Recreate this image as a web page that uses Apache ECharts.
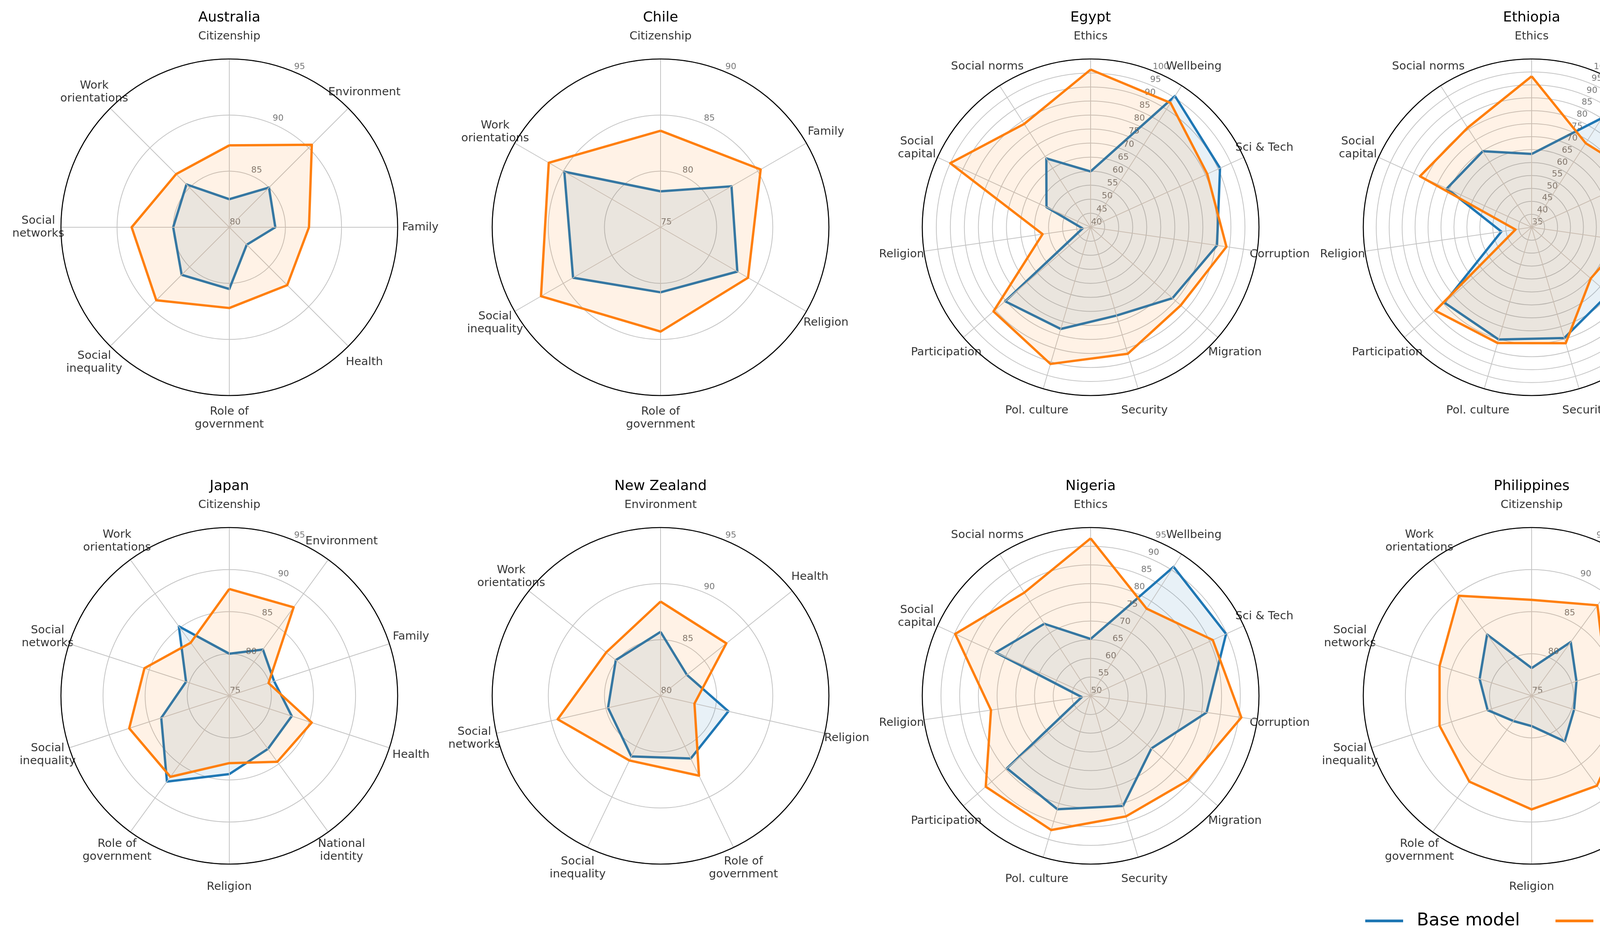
<!DOCTYPE html>
<html><head><meta charset="utf-8">
<script src="https://cdn.jsdelivr.net/npm/echarts@6/dist/echarts.min.js"></script>
<style>html,body{margin:0;padding:0;background:#fff}#c{width:7834px;height:2433px}</style>
</head><body><div id="c"></div>
<script>
// ---------------- data ----------------
const seriesNames = ['Base model', 'ACE-Align'];

const catsAustralia = ['Citizenship','Environment','Family','Health','Role of\ngovernment','Social\ninequality','Social\nnetworks','Work\norientations'];
const catsChile = ['Citizenship','Family','Religion','Role of\ngovernment','Social\ninequality','Work\norientations'];
const catsWVS = ['Ethics','Wellbeing','Sci & Tech','Corruption','Migration','Security','Pol. culture','Participation','Religion','Social\ncapital','Social norms'];
const catsISSP10 = ['Citizenship','Environment','Family','Health','National\nidentity','Religion','Role of\ngovernment','Social\ninequality','Social\nnetworks','Work\norientations'];
const catsGreatBritain = ['Citizenship','Family','National\nidentity','Religion','Role of\ngovernment','Social\ninequality','Social\nnetworks','Work\norientations'];
const catsIndia = ['Citizenship','Environment','Family','Health','National\nidentity','Role of\ngovernment','Social\nnetworks','Work\norientations'];
const catsNewZealand = ['Environment','Health','Religion','Role of\ngovernment','Social\ninequality','Social\nnetworks','Work\norientations'];
const catsMexico = ['Family','Health','National\nidentity','Social\nnetworks','Work\norientations'];

const australiaBase = [82.5, 85.0, 84.1, 82.2, 85.5, 86.0, 85.0, 85.4];
const australiaAce  = [87.3, 90.4, 87.1, 87.3, 87.2, 89.2, 88.7, 86.7];
const australiaTicks = [80, 85, 90, 95];

const chileBase = [78.2, 82.3, 82.9, 80.8, 84.0, 84.9];
const chileAce  = [83.6, 85.3, 84.0, 84.3, 87.3, 86.5];
const chileTicks = [75, 80, 85, 90];

const egyptBase = [59.9, 95.6, 90.7, 85.5, 78.6, 72.8, 77.8, 80.3, 42.9, 57.3, 69.2];
const egyptAce  = [96.2, 92.7, 85.7, 88.9, 82.5, 87.0, 90.8, 85.8, 57.3, 95.0, 83.8];
const egyptTicks = [40, 45, 50, 55, 60, 65, 70, 75, 80, 85, 90, 95, 100];

const ethiopiaBase = [63.3, 85.1, 86.1, 78.2, 74.3, 79.6, 80.2, 79.5, 46.8, 71.0, 69.9];
const ethiopiaAce  = [93.3, 73.6, 81.3, 71.0, 65.2, 81.7, 81.6, 84.2, 41.3, 82.4, 80.7];
const ethiopiaTicks = [35, 40, 45, 50, 55, 60, 65, 70, 75, 80, 85, 90, 95, 100];

const germanyBase = [82.4, 83.4, 81.7, 83.7, 85.9, 84.5, 85.2, 84.7, 81.3, 84.7];
const germanyAce  = [89.5, 88.6, 84.7, 87.3, 87.5, 87.3, 87.9, 87.5, 88.2, 87.0];
const germanyTicks = [75, 80, 85, 90, 95];

const greatBritainBase = [82.3, 83.5, 84.3, 86.1, 85.8, 85.1, 84.3, 86.5];
const greatBritainAce  = [87.9, 86.4, 84.8, 87.2, 88.3, 88.4, 88.3, 86.6];
const greatBritainTicks = [80, 85, 90, 95];

const indiaBase = [84.2, 83.2, 84.4, 80.4, 75.1, 78.8, 81.4, 83.4];
const indiaAce  = [87.4, 87.7, 87.0, 86.5, 87.8, 88.9, 88.6, 86.6];
const indiaTicks = [70, 75, 80, 85, 90, 95];

const japanBase = [80.0, 81.8, 80.6, 82.8, 82.8, 84.3, 87.6, 83.5, 80.4, 85.2];
const japanAce  = [87.7, 88.0, 79.9, 85.3, 84.7, 83.0, 86.9, 87.5, 85.6, 82.8];
const japanTicks = [75, 80, 85, 90, 95];

const newZealandBase = [85.7, 83.0, 86.2, 86.2, 86.0, 84.8, 85.1];
const newZealandAce  = [88.4, 87.5, 83.1, 87.9, 86.4, 89.4, 86.2];
const newZealandTicks = [80, 85, 90, 95];

const nigeriaBase = [65.2, 91.0, 89.8, 81.3, 71.5, 80.7, 81.6, 79.6, 52.4, 77.9, 72.9];
const nigeriaAce  = [92.1, 77.7, 85.9, 90.7, 84.5, 83.6, 87.4, 87.1, 76.9, 89.8, 82.8];
const nigeriaTicks = [50, 55, 60, 65, 70, 75, 80, 85, 90, 95];

const philippinesBase = [78.3, 82.9, 80.6, 80.3, 81.7, 78.6, 78.7, 80.5, 81.5, 84.0];
const philippinesAce  = [86.4, 88.3, 84.2, 86.5, 88.2, 88.5, 87.6, 86.5, 86.5, 89.7];
const philippinesTicks = [75, 80, 85, 90, 95];

const russiaBase = [78.9, 81.3, 76.1, 80.1, 81.4, 81.6, 83.6, 80.8, 76.7, 84.2];
const russiaAce  = [85.3, 86.3, 80.3, 83.8, 83.9, 86.4, 86.6, 83.1, 82.6, 87.0];
const russiaTicks = [70, 75, 80, 85, 90];

const unitedStatesBase = [81.8, 85.4, 82.1, 84.1, 85.5, 81.8, 85.4, 85.1, 84.4, 85.3];
const unitedStatesAce  = [87.1, 90.7, 85.4, 89.3, 88.4, 86.2, 87.7, 87.3, 88.8, 86.8];
const unitedStatesTicks = [75, 80, 85, 90, 95];

const mexicoBase = [82.5, 83.9, 82.1, 82.9, 82.3];
const mexicoAce  = [82.7, 87.1, 86.8, 87.6, 87.2];
const mexicoTicks = [80, 85, 90];

const panels = [
  {title: 'Australia', cats: catsAustralia, base: australiaBase, ace: australiaAce, ticks: australiaTicks},
  {title: 'Chile', cats: catsChile, base: chileBase, ace: chileAce, ticks: chileTicks},
  {title: 'Egypt', cats: catsWVS, base: egyptBase, ace: egyptAce, ticks: egyptTicks},
  {title: 'Ethiopia', cats: catsWVS, base: ethiopiaBase, ace: ethiopiaAce, ticks: ethiopiaTicks},
  {title: 'Germany', cats: catsISSP10, base: germanyBase, ace: germanyAce, ticks: germanyTicks},
  {title: 'Great Britain', cats: catsGreatBritain, base: greatBritainBase, ace: greatBritainAce, ticks: greatBritainTicks},
  {title: 'India', cats: catsIndia, base: indiaBase, ace: indiaAce, ticks: indiaTicks},
  {title: 'Japan', cats: catsISSP10, base: japanBase, ace: japanAce, ticks: japanTicks},
  {title: 'New Zealand', cats: catsNewZealand, base: newZealandBase, ace: newZealandAce, ticks: newZealandTicks},
  {title: 'Nigeria', cats: catsWVS, base: nigeriaBase, ace: nigeriaAce, ticks: nigeriaTicks},
  {title: 'Philippines', cats: catsISSP10, base: philippinesBase, ace: philippinesAce, ticks: philippinesTicks},
  {title: 'Russia', cats: catsISSP10, base: russiaBase, ace: russiaAce, ticks: russiaTicks},
  {title: 'United States', cats: catsISSP10, base: unitedStatesBase, ace: unitedStatesAce, ticks: unitedStatesTicks},
  {title: 'Mexico', cats: catsMexico, base: mexicoBase, ace: mexicoAce, ticks: mexicoTicks}
];

// ---------------- layout / style ----------------
const colX = [587, 1691, 2792, 3921, 5045, 6137, 7269];
const rowY = [582, 1782];
const R = 431;          // plot radius
const LABEL_R = 489;    // radius of category label centres
const TITLE_DY = 536;   // title centre above plot centre
const BLUE = '#1f77b4', ORANGE = '#ff7f0e';
const GRID = '#c4c4c4';
const FONT = 'DejaVu Sans';

const polar = [], angleAxis = [], radiusAxis = [], series = [], title = [];

panels.forEach((p, k) => {
  const cx = colX[k % 7], cy = rowY[Math.floor(k / 7)];
  const n = p.cats.length;
  const lo = p.ticks[0], hi = p.ticks[p.ticks.length - 1];

  title.push({
    text: p.title, left: cx, top: cy - TITLE_DY, padding: 0,
    textAlign: 'center', textVerticalAlign: 'middle',
    textStyle: {fontSize: 36, fontWeight: 'normal', fontFamily: FONT, color: '#000'}
  });

  // A: data polar
  const a = polar.length;
  polar.push({center: [cx, cy], radius: R});
  angleAxis.push({
    polarIndex: a, type: 'value', min: 0, max: n, interval: 1, startAngle: 90, clockwise: true, z: 3,
    axisLine: {show: true, lineStyle: {color: '#000', width: 2.6}},
    axisTick: {show: false}, axisLabel: {show: false},
    splitLine: {show: true, lineStyle: {color: GRID, width: 2}}
  });
  radiusAxis.push({
    polarIndex: a, type: 'value', min: lo, max: hi, interval: 5,
    axisLine: {show: false}, axisTick: {show: false}, axisLabel: {show: false},
    splitLine: {show: true, lineStyle: {color: GRID, width: 2}}
  });
  const closed = vals => vals.map((v, i) => [v, i]).concat([[vals[0], n]]);
  [[p.base, BLUE, seriesNames[0]], [p.ace, ORANGE, seriesNames[1]]].forEach(([vals, col, nm], j) => {
    series.push({
      type: 'line', name: nm, coordinateSystem: 'polar', polarIndex: a,
      data: closed(vals), symbol: 'none', showSymbol: false, clip: false, z: 2 + j,
      lineStyle: {color: col, width: 6, join: 'round'}, itemStyle: {color: col},
      areaStyle: {color: col, opacity: 0.1}, silent: true
    });
  });

  // B: radial tick labels at 22.5 deg clockwise from top
  const b = polar.length;
  polar.push({center: [cx + 15, cy - 13], radius: R});
  angleAxis.push({polarIndex: b, type: 'value', min: 0, max: 1, startAngle: 67.5, show: false});
  radiusAxis.push({polarIndex: b, type: 'value', min: lo, max: hi, show: false});
  series.push({
    type: 'scatter', coordinateSystem: 'polar', polarIndex: b, symbolSize: 1, silent: true,
    itemStyle: {color: 'rgba(0,0,0,0)'},
    data: p.ticks.map(t => ({value: [t, 0], name: String(t)})),
    label: {show: true, position: 'inside', formatter: '{b}', fontSize: 22, fontFamily: FONT, color: '#555'}
  });

  // C: category labels
  const c = polar.length;
  polar.push({center: [cx, cy], radius: LABEL_R});
  angleAxis.push({polarIndex: c, type: 'value', min: 0, max: n, interval: 1, startAngle: 90, clockwise: true, show: false});
  radiusAxis.push({polarIndex: c, type: 'value', min: 0, max: 1, show: false});
  series.push({
    type: 'scatter', coordinateSystem: 'polar', polarIndex: c, symbolSize: 1, silent: true,
    itemStyle: {color: 'rgba(0,0,0,0)'},
    data: p.cats.map((name, i) => ({value: [1, i], name})),
    label: {show: true, position: 'inside', formatter: '{b}', fontSize: 29, lineHeight: 33, fontFamily: FONT, color: '#000', align: 'center'}
  });
});

const chart = echarts.init(document.getElementById('c'), null, {renderer: 'canvas'});
chart.setOption({
  backgroundColor: '#fff',
  animation: false,
  textStyle: {fontFamily: FONT},
  title, polar, angleAxis, radiusAxis, series,
  legend: {
    data: seriesNames, left: 3495, top: 2336, padding: 0,
    itemWidth: 97, itemHeight: 7, itemGap: 91, icon: 'rect',
    textStyle: {fontSize: 45, fontFamily: FONT, color: '#000', padding: [0, 0, 0, 30]}
  }
});
</script></body></html>
